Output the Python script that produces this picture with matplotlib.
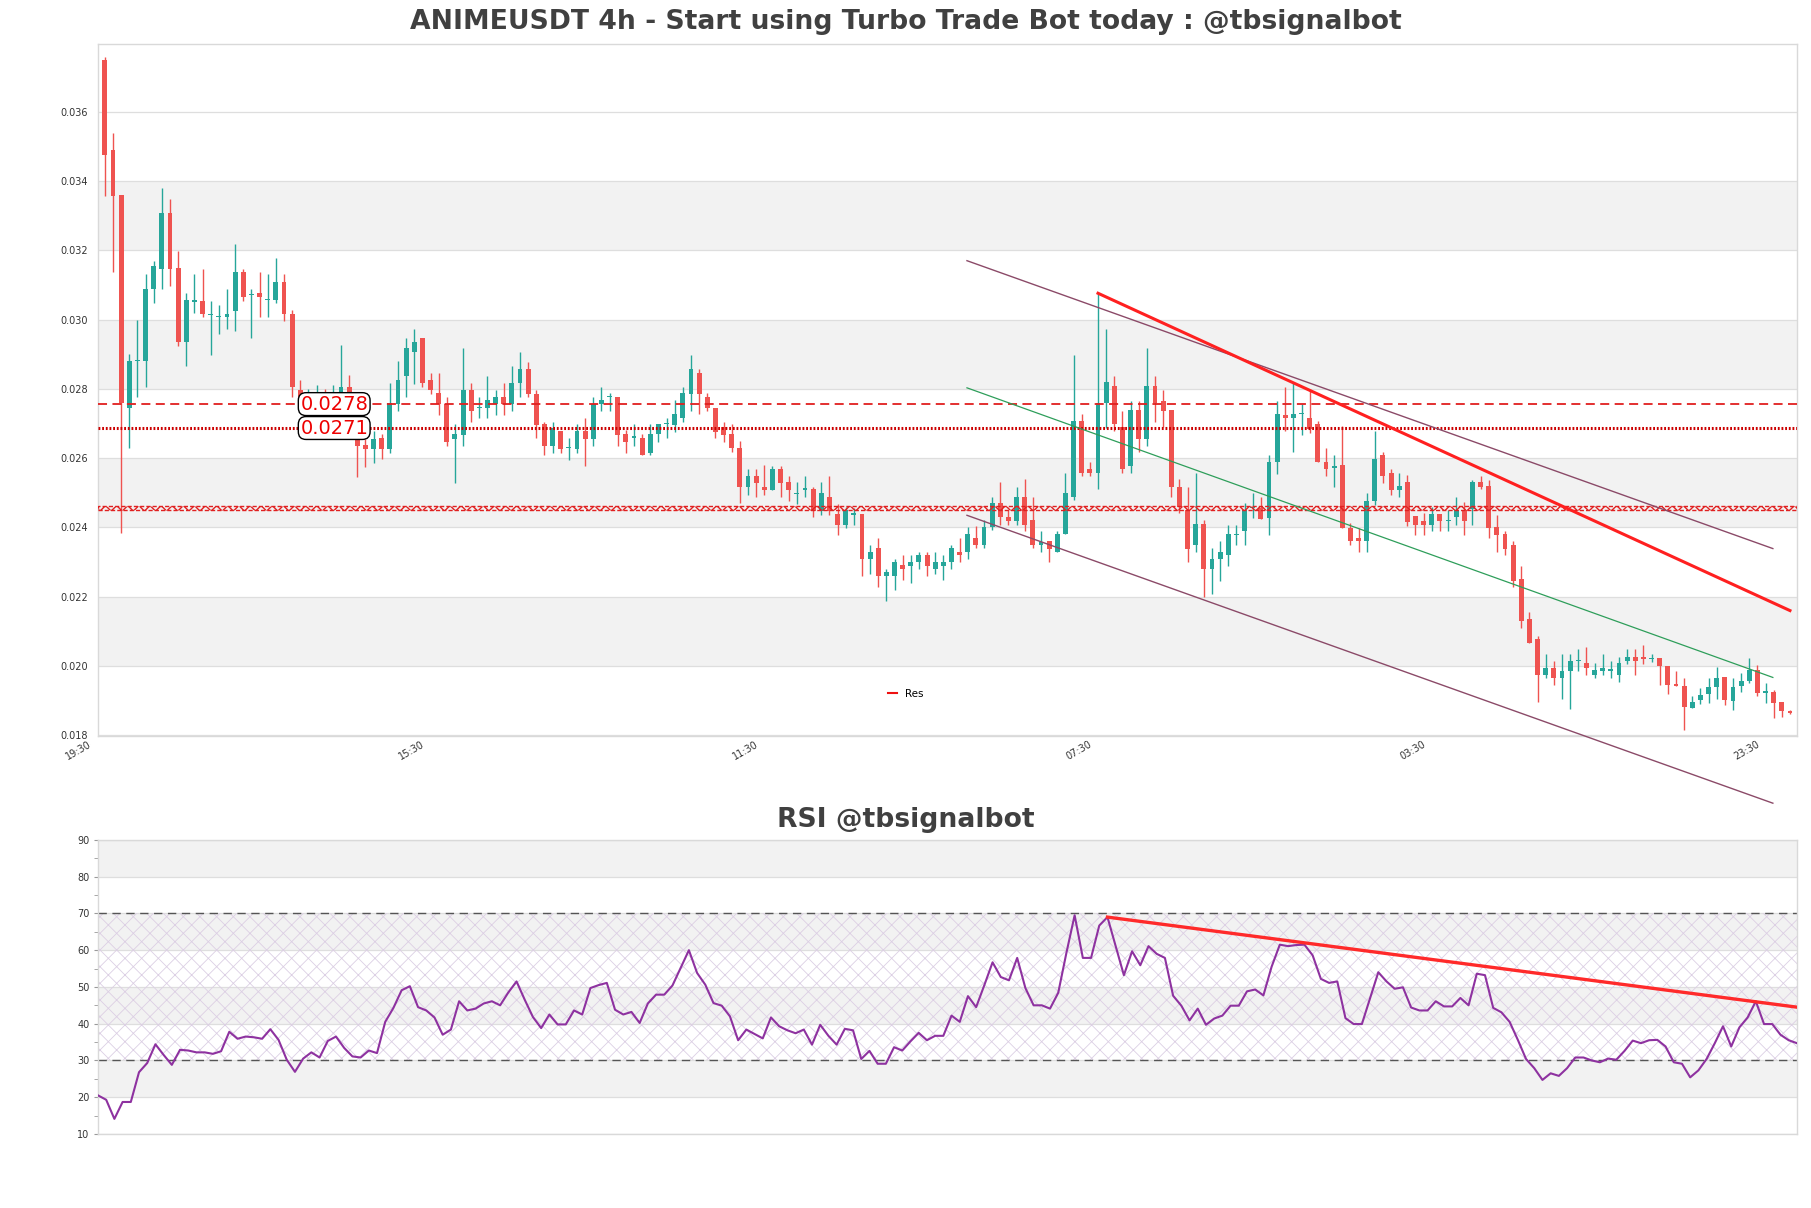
import matplotlib
matplotlib.use('Agg')
import matplotlib.pyplot as plt
import matplotlib.transforms as mtransforms
from matplotlib.ticker import MultipleLocator
import numpy as np

# ---------------- data ----------------
opens = [0.03748, 0.03489, 0.03359, 0.02744, 0.02880, 0.02880, 0.03088, 0.03147, 0.03307, 0.03149,
         0.02934, 0.03052, 0.03053, 0.03014, 0.03006, 0.03006, 0.03026, 0.03137, 0.03071, 0.03077,
         0.03056, 0.03057, 0.03109, 0.03016, 0.02796, 0.02740, 0.02760, 0.02770, 0.02750, 0.02780,
         0.02804, 0.02668, 0.02638, 0.02625, 0.02657, 0.02627, 0.02757, 0.02836, 0.02905, 0.02946,
         0.02827, 0.02787, 0.02757, 0.02655, 0.02668, 0.02798, 0.02745, 0.02744, 0.02757, 0.02777,
         0.02757, 0.02817, 0.02858, 0.02786, 0.02698, 0.02636, 0.02679, 0.02628, 0.02627, 0.02677,
         0.02655, 0.02757, 0.02776, 0.02777, 0.02670, 0.02659, 0.02657, 0.02615, 0.02670, 0.02698,
         0.02695, 0.02717, 0.02784, 0.02846, 0.02777, 0.02746, 0.02689, 0.02670, 0.02629, 0.02516,
         0.02549, 0.02517, 0.02508, 0.02570, 0.02530, 0.02497, 0.02509, 0.02510, 0.02448, 0.02489,
         0.02438, 0.02408, 0.02437, 0.02438, 0.02308, 0.02341, 0.02260, 0.02260, 0.02291, 0.02289,
         0.02300, 0.02320, 0.02279, 0.02289, 0.02300, 0.02330, 0.02330, 0.02370, 0.02349, 0.02400,
         0.02470, 0.02429, 0.02419, 0.02489, 0.02422, 0.02349, 0.02360, 0.02330, 0.02381, 0.02489,
         0.02708, 0.02570, 0.02558, 0.02758, 0.02808, 0.02689, 0.02577, 0.02738, 0.02655, 0.02808,
         0.02765, 0.02738, 0.02516, 0.02451, 0.02349, 0.02410, 0.02279, 0.02308, 0.02320, 0.02378,
         0.02389, 0.02455, 0.02457, 0.02427, 0.02589, 0.02724, 0.02717, 0.02726, 0.02717, 0.02698,
         0.02589, 0.02573, 0.02579, 0.02398, 0.02370, 0.02360, 0.02477, 0.02608, 0.02558, 0.02508,
         0.02530, 0.02432, 0.02420, 0.02408, 0.02439, 0.02419, 0.02429, 0.02450, 0.02453, 0.02530,
         0.02519, 0.02400, 0.02381, 0.02349, 0.02251, 0.02137, 0.02078, 0.01974, 0.01995, 0.01966,
         0.01986, 0.02014, 0.02008, 0.01974, 0.01986, 0.01987, 0.01974, 0.02014, 0.02027, 0.02027,
         0.02021, 0.02024, 0.02001, 0.01947, 0.01943, 0.01880, 0.01902, 0.01919, 0.01940, 0.01969,
         0.01900, 0.01943, 0.01957, 0.01988, 0.01923, 0.01926, 0.01895, 0.01869]
highs = [0.03758, 0.03538, 0.03360, 0.02900, 0.03000, 0.03131, 0.03169, 0.03379, 0.03349, 0.03197,
         0.03077, 0.03131, 0.03147, 0.03053, 0.03043, 0.03088, 0.03218, 0.03147, 0.03088, 0.03137,
         0.03131, 0.03178, 0.03131, 0.03028, 0.02826, 0.02800, 0.02810, 0.02800, 0.02810, 0.02927,
         0.02839, 0.02687, 0.02655, 0.02677, 0.02670, 0.02817, 0.02879, 0.02946, 0.02974, 0.02946,
         0.02846, 0.02846, 0.02777, 0.02698, 0.02917, 0.02817, 0.02777, 0.02838, 0.02798, 0.02817,
         0.02867, 0.02906, 0.02877, 0.02798, 0.02705, 0.02705, 0.02679, 0.02657, 0.02698, 0.02717,
         0.02777, 0.02806, 0.02787, 0.02777, 0.02682, 0.02698, 0.02670, 0.02698, 0.02698, 0.02717,
         0.02767, 0.02806, 0.02898, 0.02858, 0.02787, 0.02746, 0.02705, 0.02698, 0.02649, 0.02570,
         0.02570, 0.02580, 0.02577, 0.02577, 0.02549, 0.02530, 0.02549, 0.02517, 0.02530, 0.02549,
         0.02468, 0.02460, 0.02455, 0.02438, 0.02349, 0.02370, 0.02279, 0.02308, 0.02320, 0.02320,
         0.02330, 0.02330, 0.02330, 0.02320, 0.02349, 0.02370, 0.02400, 0.02403, 0.02422, 0.02489,
         0.02530, 0.02451, 0.02517, 0.02539, 0.02489, 0.02389, 0.02360, 0.02389, 0.02558, 0.02898,
         0.02727, 0.02589, 0.03076, 0.02974, 0.02836, 0.02736, 0.02765, 0.02765, 0.02917, 0.02838,
         0.02798, 0.02738, 0.02541, 0.02517, 0.02558, 0.02422, 0.02341, 0.02360, 0.02408, 0.02408,
         0.02470, 0.02498, 0.02489, 0.02608, 0.02765, 0.02806, 0.02817, 0.02755, 0.02800, 0.02708,
         0.02629, 0.02608, 0.02693, 0.02412, 0.02398, 0.02498, 0.02679, 0.02617, 0.02570, 0.02558,
         0.02551, 0.02432, 0.02441, 0.02460, 0.02439, 0.02449, 0.02489, 0.02474, 0.02536, 0.02549,
         0.02536, 0.02436, 0.02389, 0.02362, 0.02289, 0.02156, 0.02087, 0.02036, 0.02014, 0.02036,
         0.02036, 0.02049, 0.02056, 0.02008, 0.02036, 0.02014, 0.02027, 0.02049, 0.02049, 0.02060,
         0.02036, 0.02024, 0.02001, 0.01986, 0.01966, 0.01912, 0.01936, 0.01966, 0.01998, 0.01969,
         0.01964, 0.01979, 0.02024, 0.02003, 0.01952, 0.01931, 0.01895, 0.01872]
lows = [0.03358, 0.03137, 0.02385, 0.02628, 0.02777, 0.02805, 0.03047, 0.03088, 0.03096, 0.02924,
        0.02867, 0.03020, 0.03006, 0.02897, 0.02957, 0.02974, 0.02966, 0.03055, 0.02947, 0.03006,
        0.03006, 0.03047, 0.02995, 0.02777, 0.02740, 0.02730, 0.02730, 0.02730, 0.02730, 0.02770,
        0.02680, 0.02545, 0.02574, 0.02587, 0.02598, 0.02615, 0.02736, 0.02777, 0.02815, 0.02806,
        0.02784, 0.02724, 0.02636, 0.02527, 0.02636, 0.02705, 0.02715, 0.02715, 0.02724, 0.02724,
        0.02736, 0.02777, 0.02777, 0.02657, 0.02608, 0.02615, 0.02615, 0.02595, 0.02615, 0.02576,
        0.02636, 0.02736, 0.02736, 0.02636, 0.02615, 0.02636, 0.02608, 0.02608, 0.02648, 0.02657,
        0.02676, 0.02705, 0.02736, 0.02727, 0.02736, 0.02657, 0.02648, 0.02617, 0.02470, 0.02495,
        0.02489, 0.02495, 0.02508, 0.02487, 0.02476, 0.02468, 0.02489, 0.02429, 0.02437, 0.02437,
        0.02379, 0.02398, 0.02408, 0.02260, 0.02267, 0.02229, 0.02189, 0.02219, 0.02248, 0.02241,
        0.02279, 0.02260, 0.02267, 0.02248, 0.02279, 0.02300, 0.02308, 0.02341, 0.02341, 0.02393,
        0.02408, 0.02408, 0.02408, 0.02389, 0.02341, 0.02330, 0.02300, 0.02330, 0.02381, 0.02479,
        0.02549, 0.02549, 0.02510, 0.02686, 0.02679, 0.02558, 0.02558, 0.02617, 0.02636, 0.02705,
        0.02689, 0.02489, 0.02441, 0.02300, 0.02330, 0.02198, 0.02208, 0.02246, 0.02289, 0.02349,
        0.02349, 0.02427, 0.02425, 0.02379, 0.02555, 0.02679, 0.02617, 0.02667, 0.02674, 0.02589,
        0.02549, 0.02517, 0.02398, 0.02349, 0.02330, 0.02330, 0.02465, 0.02527, 0.02493, 0.02489,
        0.02403, 0.02379, 0.02379, 0.02389, 0.02389, 0.02389, 0.02408, 0.02379, 0.02408, 0.02512,
        0.02370, 0.02330, 0.02320, 0.02229, 0.02111, 0.02067, 0.01897, 0.01966, 0.01945, 0.01905,
        0.01876, 0.01986, 0.01974, 0.01966, 0.01974, 0.01966, 0.01955, 0.02006, 0.01974, 0.02006,
        0.02012, 0.01945, 0.01919, 0.01943, 0.01816, 0.01880, 0.01890, 0.01893, 0.01905, 0.01888,
        0.01873, 0.01926, 0.01950, 0.01912, 0.01892, 0.01849, 0.01854, 0.01862]
closes = [0.03475, 0.03358, 0.02758, 0.02880, 0.02882, 0.03088, 0.03156, 0.03307, 0.03147, 0.02934,
          0.03057, 0.03055, 0.03015, 0.03016, 0.03009, 0.03016, 0.03137, 0.03065, 0.03074, 0.03066,
          0.03058, 0.03109, 0.03015, 0.02805, 0.02765, 0.02760, 0.02765, 0.02750, 0.02770, 0.02804,
          0.02700, 0.02636, 0.02625, 0.02655, 0.02627, 0.02758, 0.02827, 0.02917, 0.02934, 0.02817,
          0.02796, 0.02757, 0.02648, 0.02670, 0.02798, 0.02736, 0.02747, 0.02767, 0.02777, 0.02757,
          0.02817, 0.02858, 0.02784, 0.02695, 0.02636, 0.02687, 0.02627, 0.02630, 0.02677, 0.02655,
          0.02757, 0.02767, 0.02778, 0.02668, 0.02648, 0.02661, 0.02608, 0.02670, 0.02698, 0.02702,
          0.02727, 0.02787, 0.02858, 0.02784, 0.02746, 0.02676, 0.02668, 0.02629, 0.02516, 0.02549,
          0.02527, 0.02508, 0.02570, 0.02527, 0.02508, 0.02499, 0.02511, 0.02448, 0.02498, 0.02448,
          0.02408, 0.02450, 0.02439, 0.02308, 0.02330, 0.02260, 0.02272, 0.02300, 0.02279, 0.02300,
          0.02320, 0.02289, 0.02300, 0.02300, 0.02341, 0.02320, 0.02380, 0.02349, 0.02400, 0.02470,
          0.02429, 0.02419, 0.02489, 0.02408, 0.02349, 0.02359, 0.02339, 0.02381, 0.02498, 0.02708,
          0.02558, 0.02558, 0.02758, 0.02819, 0.02698, 0.02568, 0.02738, 0.02655, 0.02808, 0.02758,
          0.02736, 0.02516, 0.02460, 0.02339, 0.02410, 0.02279, 0.02310, 0.02330, 0.02381, 0.02381,
          0.02451, 0.02458, 0.02425, 0.02589, 0.02727, 0.02717, 0.02727, 0.02728, 0.02684, 0.02589,
          0.02570, 0.02575, 0.02398, 0.02360, 0.02360, 0.02477, 0.02598, 0.02548, 0.02508, 0.02519,
          0.02417, 0.02408, 0.02408, 0.02439, 0.02419, 0.02421, 0.02450, 0.02419, 0.02530, 0.02517,
          0.02398, 0.02379, 0.02339, 0.02246, 0.02130, 0.02067, 0.01974, 0.01995, 0.01966, 0.01986,
          0.02015, 0.02016, 0.01995, 0.01988, 0.01995, 0.01989, 0.02008, 0.02027, 0.02014, 0.02020,
          0.02023, 0.02001, 0.01945, 0.01943, 0.01883, 0.01895, 0.01915, 0.01940, 0.01966, 0.01902,
          0.01938, 0.01957, 0.01988, 0.01921, 0.01925, 0.01892, 0.01870, 0.01865]
rsi = [20.5, 19.3, 14.1, 18.7, 18.7, 26.8, 29.3, 34.4, 31.5, 28.8,
       32.9, 32.7, 32.2, 32.2, 31.8, 32.5, 37.8, 35.9, 36.5, 36.3,
       35.9, 38.5, 35.6, 30.2, 26.9, 30.5, 32.2, 30.8, 35.3, 36.5,
       33.4, 31.1, 30.8, 32.7, 32.0, 40.5, 44.3, 49.1, 50.2, 44.5,
       43.6, 41.7, 37.0, 38.4, 46.1, 43.6, 44.1, 45.5, 46.1, 45.0,
       48.5, 51.5, 46.5, 41.8, 38.8, 42.5, 39.8, 39.8, 43.6, 42.5,
       49.7, 50.5, 51.1, 43.8, 42.5, 43.2, 40.2, 45.5, 47.9, 47.9,
       50.4, 55.2, 60.0, 53.8, 50.6, 45.6, 44.9, 42.0, 35.5, 38.4,
       37.2, 36.0, 41.7, 39.3, 38.2, 37.4, 38.4, 34.3, 39.7, 36.7,
       34.3, 38.6, 38.2, 30.4, 32.6, 29.1, 29.1, 33.6, 32.7, 35.2,
       37.5, 35.5, 36.7, 36.7, 42.2, 40.5, 47.5, 44.5, 50.5, 56.7,
       52.7, 51.8, 57.9, 49.7, 45.0, 45.0, 44.1, 48.4, 59.3, 69.5,
       57.9, 57.9, 66.7, 69.0, 61.1, 53.2, 59.7, 55.9, 61.1, 59.0,
       57.9, 47.6, 44.9, 40.9, 44.1, 39.7, 41.4, 42.2, 44.9, 44.9,
       48.8, 49.3, 47.7, 55.5, 61.5, 61.1, 61.4, 61.5, 58.6, 52.2,
       51.1, 51.5, 41.5, 39.9, 39.9, 47.0, 54.0, 51.5, 49.5, 49.9,
       44.4, 43.6, 43.6, 46.1, 44.7, 44.7, 47.0, 45.0, 53.6, 53.2,
       44.3, 43.1, 40.5, 35.6, 30.4, 27.9, 24.7, 26.5, 25.8, 27.9,
       30.8, 30.8, 30.0, 29.5, 30.5, 30.2, 32.6, 35.4, 34.7, 35.5,
       35.6, 33.8, 29.5, 29.1, 25.4, 27.3, 30.4, 34.7, 39.3, 33.8,
       39.0, 41.7, 46.1, 39.9, 39.9, 37.0, 35.5, 34.7]

tick_labels = ['19:30', '15:30', '11:30', '07:30', '03:30', '23:30']
res_levels = [0.02756, 0.02687]
res_labels = ['0.0278', '0.0271']
zone_low, zone_high = 0.02451, 0.02461

# trend lines: (x0, y0, x1, y1) in candle index / price
channel_upper = (105.9, 0.03170, 204.9, 0.02339)
channel_mid = (105.9, 0.02803, 204.9, 0.01967)
channel_lower = (105.9, 0.02435, 204.9, 0.01604)
res_trend = (122, 0.03076, 207, 0.02160)
rsi_trend = (123, 69.0, 207, 44.5)

title = 'ANIMEUSDT 4h - Start using Turbo Trade Bot today : @tbsignalbot'
rsi_title = 'RSI @tbsignalbot'

# ---------------- style ----------------
GREEN = '#26a69a'
RED = '#ef5350'
BAND = '#f2f2f2'
GRID = '#dedede'
SPINE = '#d9d9d9'
TXT = '#333333'
plt.rcParams['font.family'] = ['DejaVu Sans']
plt.rcParams['hatch.linewidth'] = 0.6

N = len(closes)
x = np.arange(N)
o = np.array(opens); h = np.array(highs); l = np.array(lows); c = np.array(closes)

fig = plt.figure(figsize=(18.11, 12.08), dpi=100)
ax = fig.add_axes([0.0541, 0.3907, 0.9381, 0.5729])
ax2 = fig.add_axes([0.0541, 0.0613, 0.9381, 0.2434])

# ---------- main chart ----------
ymin = min(lows) * 0.99
ymax = max(highs) * 1.01
ax.set_xlim(-0.85, N - 1 + 0.85)
ax.set_ylim(ymin, ymax)
yt = np.round(np.arange(0.018, 0.0365, 0.002), 3)
for k, v in enumerate(yt[:-1]):
    if k % 2 == 1:
        ax.axhspan(v, yt[k + 1], color=BAND, zorder=0, lw=0)
for v in yt:
    ax.axhline(v, color=GRID, lw=0.9, zorder=0.5)

up = c >= o
colors = np.where(up, GREEN, RED)
ax.vlines(x, l, h, colors=colors, lw=1.0, zorder=2)
body_bottom = np.minimum(o, c)
body_h = np.maximum(np.abs(c - o), 0.000035)
ax.bar(x, body_h, bottom=body_bottom, width=0.6, color=colors, zorder=2.1, lw=0)

# horizontal levels
ax.axhline(res_levels[0], color='#e01f1f', lw=1.3, ls=(0, (5, 3)), zorder=3)
ax.axhline(res_levels[1], color='#cc0000', lw=2.2, ls=(0, (0.6, 0.6)), zorder=3)
with plt.rc_context({'hatch.linewidth': 1.0}):
    ax.axhspan(zone_low, zone_high, facecolor='none', edgecolor='#e02020', hatch='xxx',
               lw=1.0, ls=(0, (3, 1.5)), zorder=3)

# channel
for (x0, y0, x1, y1), col, lw in [(channel_upper, '#8b4a68', 1.0),
                                  (channel_mid, '#2e9e5a', 0.9),
                                  (channel_lower, '#8b4a68', 1.0)]:
    ax.plot([x0, x1], [y0, y1], color=col, lw=lw, zorder=3, clip_on=False)
ax.plot([res_trend[0], res_trend[2]], [res_trend[1], res_trend[3]], color='#ff2020', lw=2.2, zorder=3.5)

# level labels
for lev, txt in zip(res_levels, res_labels):
    ax.text(24, lev, txt, color='#ee0000', fontsize=14, ha='left', va='center', zorder=6,
            bbox=dict(boxstyle='round,pad=0.1,rounding_size=0.4', fc='white', ec='black', lw=1.0))

# legend
ax.plot([], [], color='#ee1111', lw=1.5, label='Res')
ax.legend(loc='center', bbox_to_anchor=(0.4755, 0.061), frameon=False, fontsize=7.5,
          handlelength=0.9, handletextpad=0.8)

ax.set_yticks(yt)
ax.set_yticklabels(['%.3f' % v for v in yt])
# x tick labels (time of day), one every 41 candles
ax.set_xticks([])
xlab_trans = mtransforms.blended_transform_factory(ax.transData, ax.transAxes)
for k, lab in enumerate(tick_labels):
    ax.text(-1.5 + 41 * k, -0.004, lab, transform=xlab_trans, rotation=30, ha='right', va='top',
            fontsize=7, color=TXT, clip_on=False)
ax.tick_params(axis='both', length=0, labelsize=7, colors=TXT)
ax.tick_params(axis='y', pad=7)
for s in ax.spines.values():
    s.set_color(SPINE)
    s.set_linewidth(1.0)

fig.text(0.5, 0.9815, title, ha='center', va='center', fontsize=19.2, fontweight='bold', color='#404040')

# ---------- RSI ----------
ax2.set_xlim(0, N - 1)
ax2.set_ylim(10, 90)
for lo in [20, 40, 60, 80]:
    ax2.axhspan(lo, lo + 10, color=BAND, lw=0, zorder=0)
for v in range(10, 91, 10):
    ax2.axhline(v, color=GRID, lw=0.9, zorder=0.5)
ax2.fill_between([0, N - 1], 30, 70, facecolor='none', edgecolor='#dccfe4', hatch='xx', lw=0, zorder=0.6)
ax2.axhline(70, color='#555555', lw=1.0, ls=(0, (6, 4)), zorder=1)
ax2.axhline(30, color='#555555', lw=1.0, ls=(0, (6, 4)), zorder=1)
ax2.plot(x, rsi, color='#8e32a0', lw=1.5, zorder=3)
ax2.plot([rsi_trend[0], rsi_trend[2]], [rsi_trend[1], rsi_trend[3]], color='#ff2a2a', lw=2.4, zorder=4)
ax2.set_yticks(range(10, 91, 10))
ax2.yaxis.set_minor_locator(MultipleLocator(5))
ax2.set_xticks([])
ax2.tick_params(axis='y', which='both', length=3, color='#999999', labelsize=7, labelcolor=TXT, pad=3)
for s in ax2.spines.values():
    s.set_color(SPINE)
    s.set_linewidth(1.0)
fig.text(0.5, 0.3215, rsi_title, ha='center', va='center', fontsize=19.2, fontweight='bold', color='#404040')

fig.savefig('out.png', dpi=100, facecolor='white')
